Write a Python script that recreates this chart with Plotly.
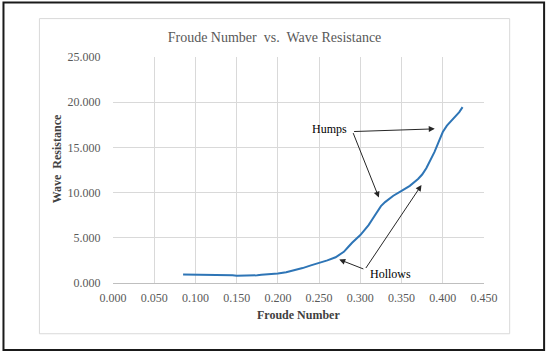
import plotly.graph_objects as go

froude = [0.085, 0.10, 0.12, 0.14, 0.145, 0.15, 0.16, 0.17, 0.175, 0.18, 0.19, 0.20,
          0.21, 0.22, 0.23, 0.24, 0.25, 0.26, 0.27, 0.28, 0.285, 0.29, 0.30, 0.31,
          0.315, 0.32, 0.325, 0.33, 0.34, 0.35, 0.36, 0.37, 0.375, 0.38, 0.385,
          0.39, 0.395, 0.40, 0.405, 0.41, 0.415, 0.42, 0.424]
resistance = [0.93, 0.93, 0.93, 0.92, 0.85, 0.80, 0.79, 0.80, 0.85, 0.90, 0.93, 1.04,
              1.20, 1.40, 1.65, 1.95, 2.20, 2.50, 2.85, 3.45, 3.95, 4.45, 5.30, 6.40,
              7.10, 7.85, 8.50, 8.95, 9.65, 10.20, 10.75, 11.50, 12.00, 12.70, 13.60,
              14.50, 15.60, 16.70, 17.40, 17.90, 18.40, 18.90, 19.45]

x_ticks = [0.0, 0.05, 0.10, 0.15, 0.20, 0.25, 0.30, 0.35, 0.40, 0.45]
y_ticks = [0, 5, 10, 15, 20, 25]

# annotation anchors (data coords)
humps_text = (0.263, 17.0)
humps_origin = (0.2906, 16.75)
humps_tips = [(0.3903, 17.05), (0.3225, 9.45)]
hollows_text = (0.337, 1.04)
hollows_origin = (0.3055, 1.49)
hollows_tips = [(0.2744, 2.6), (0.3742, 10.84)]

W, H = 550, 354
L, R, T, B = 112.7, 484.3, 57.3, 282.7


def px(xp):
    return (xp - L) / (R - L)


def py(yp):
    return (B - yp) / (B - T)


SERIF = "Liberation Serif, Times New Roman, serif"

fig = go.Figure()
fig.add_trace(go.Scatter(x=froude, y=resistance, mode="lines",
                         line=dict(color="#2E75B6", width=2), hoverinfo="skip"))

annotations = []
for tip in humps_tips:
    annotations.append(dict(x=tip[0], y=tip[1], ax=humps_origin[0], ay=humps_origin[1],
                            xref="x", yref="y", axref="x", ayref="y", text="",
                            showarrow=True, arrowhead=2, arrowsize=1.2, arrowwidth=1,
                            arrowcolor="#262626"))
for tip in hollows_tips:
    annotations.append(dict(x=tip[0], y=tip[1], ax=hollows_origin[0], ay=hollows_origin[1],
                            xref="x", yref="y", axref="x", ayref="y", text="",
                            showarrow=True, arrowhead=2, arrowsize=1.2, arrowwidth=1,
                            arrowcolor="#262626"))
annotations.append(dict(x=humps_text[0], y=humps_text[1], xref="x", yref="y", text="Humps",
                        showarrow=False, font=dict(family=SERIF, size=12, color="#000000")))
annotations.append(dict(x=hollows_text[0], y=hollows_text[1], xref="x", yref="y", text="Hollows",
                        showarrow=False, font=dict(family=SERIF, size=12, color="#000000")))
# axis titles
annotations.append(dict(x=px(298.7), y=py(315), xref="paper", yref="paper",
                        xanchor="center", yanchor="middle",
                        text="<b>Froude Number</b>", showarrow=False,
                        font=dict(family=SERIF, size=12, color="#404040")))
annotations.append(dict(x=px(57.5), y=py(158.5), xref="paper", yref="paper",
                        xanchor="center", yanchor="middle",
                        text="<b>Wave  Resistance</b>", showarrow=False, textangle=-90,
                        font=dict(family=SERIF, size=12, color="#404040")))

shapes = [
    dict(type="rect", xref="paper", yref="paper", x0=px(39), x1=px(510), y0=py(333.3), y1=py(19),
         line=dict(color="#D9D9D9", width=1), layer="below"),
    dict(type="rect", xref="paper", yref="paper", x0=px(3), x1=px(544.5), y0=py(349.5), y1=py(3),
         line=dict(color="#1a1a1a", width=2), layer="above"),
]

fig.update_layout(
    width=W, height=H,
    margin=dict(l=L, r=W - R, t=T, b=H - B, autoexpand=False),
    paper_bgcolor="white", plot_bgcolor="white",
    showlegend=False,
    title=dict(text="Froude Number  vs.  Wave Resistance", x=274.5 / W, xanchor="center",
               y=1 - 37 / H, yanchor="middle", yref="container",
               font=dict(family=SERIF, size=14, color="#595959")),
    xaxis=dict(range=[0, 0.45], tickvals=x_ticks, tickformat=".3f",
               showgrid=True, gridcolor="#D9D9D9", gridwidth=1,
               showline=True, linecolor="#BFBFBF", linewidth=1, zeroline=False,
               ticks="outside", ticklen=4, tickcolor="rgba(0,0,0,0)",
               tickfont=dict(family=SERIF, size=12, color="#595959")),
    yaxis=dict(range=[0, 25], tickvals=y_ticks, tickformat=".3f",
               showgrid=True, gridcolor="#D9D9D9", gridwidth=1,
               showline=False, zeroline=False,
               ticks="outside", ticklen=9, tickcolor="rgba(0,0,0,0)",
               tickfont=dict(family=SERIF, size=12, color="#595959")),
    annotations=annotations,
    shapes=shapes,
)

fig.write_html("out.html", config={"displayModeBar": False},
               post_script="document.body.style.margin='0';")
